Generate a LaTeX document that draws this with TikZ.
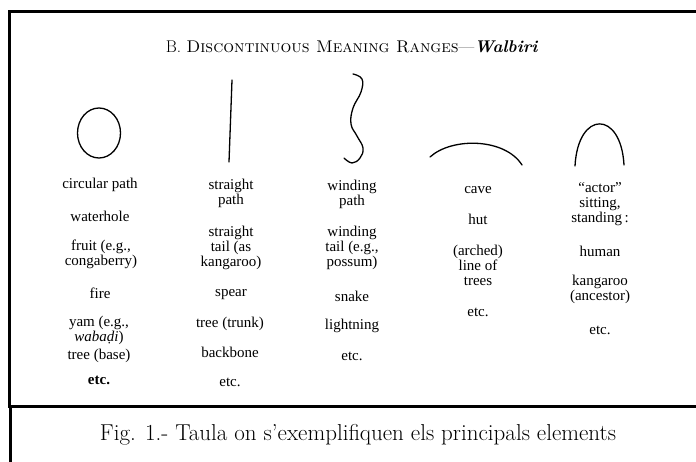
\documentclass[tikz,border=0pt]{standalone}
\usepackage{fontspec}
\newfontfamily\scanfont{Liberation Serif}

\begin{document}
\begin{tikzpicture}[x=1pt,y=-1pt,
  item/.style={font=\scanfont\fontsize{15}{15}\selectfont,align=center,inner sep=0pt},
  frame/.style={line width=3pt},
  stroke/.style={line width=1.3pt,line cap=round}]
\useasboundingbox (0,0) rectangle (696,461);
\clip (0,0) rectangle (696,461);
% frame of the table and of the caption
\draw[frame] (700,11) -- (9.5,11) -- (9.5,406) -- (700,406);
\draw[frame] (10.5,406) -- (10.5,470);
\node[font=\fontsize{17}{17}\selectfont] (title) at (352,47) {B. \textsc{Discontinuous Meaning Ranges}---\textbf{\textit{Walbiri}}};
% the five drawn shapes
\draw[stroke] (99,133) ellipse [x radius=21.5pt,y radius=25pt];
\draw[stroke] (232,80) -- (229,162);
\draw[stroke] plot[smooth,tension=0.7] coordinates {(353,74) (362,79) (361,92) (353,108) (351,124) (357,136) (363,148) (360,158) (352,163) (344,158)};
\draw[stroke] (430,157) .. controls (452,137) and (505,138) .. (522,165);
\draw[stroke] (575,166) .. controls (578,110) and (621,110) .. (624,165);
% column 1
\node[item] (a1) at (100,185) {circular path};
\node[item] (a2) at (100,216) {waterhole};
\node[item] (a3) at (101,254) {fruit (e.g.,\\congaberry)};
\node[item] (a4) at (100,293) {fire};
\node[item] (a5) at (99,330) {yam (e.g.,\\\textit{waba\d{d}i})};
\node[item] (a6) at (99,356) {tree (base)};
\node[item] (a7) at (99,380) {\textbf{etc.}};
% column 2
\node[item] (b1) at (231,193) {straight\\path};
\node[item] (b2) at (231,248) {straight\\tail (as\\kangaroo)};
\node[item] (b3) at (231,295) {spear};
\node[item] (b4) at (230,324) {tree (trunk)};
\node[item] (b5) at (230,352) {backbone};
\node[item] (b6) at (230,382) {etc.};
% column 3
\node[item] (c1) at (352,194) {winding\\path};
\node[item] (c2) at (352,248) {winding\\tail (e.g.,\\possum)};
\node[item] (c3) at (352,296) {snake};
\node[item] (c4) at (352,326) {lightning};
\node[item] (c5) at (352,356) {etc.};
% column 4
\node[item] (d1) at (478,190) {cave};
\node[item] (d2) at (478,219) {hut};
\node[item] (d3) at (478,265) {(arched)\\line of\\trees};
\node[item] (d4) at (478,312) {etc.};
% column 5
\node[item] (e1) at (600,204) {“actor”\\sitting,\\standing\,:};
\node[item] (e2) at (600,251) {human};
\node[item] (e3) at (600,289) {kangaroo\\(ancestor)};
\node[item] (e4) at (600,330) {etc.};
% caption
\node[font=\fontsize{23}{28}\selectfont] (caption) at (358,435) {Fig. 1.- Taula on s’exemplifiquen els principals elements};
\end{tikzpicture}
\end{document}
